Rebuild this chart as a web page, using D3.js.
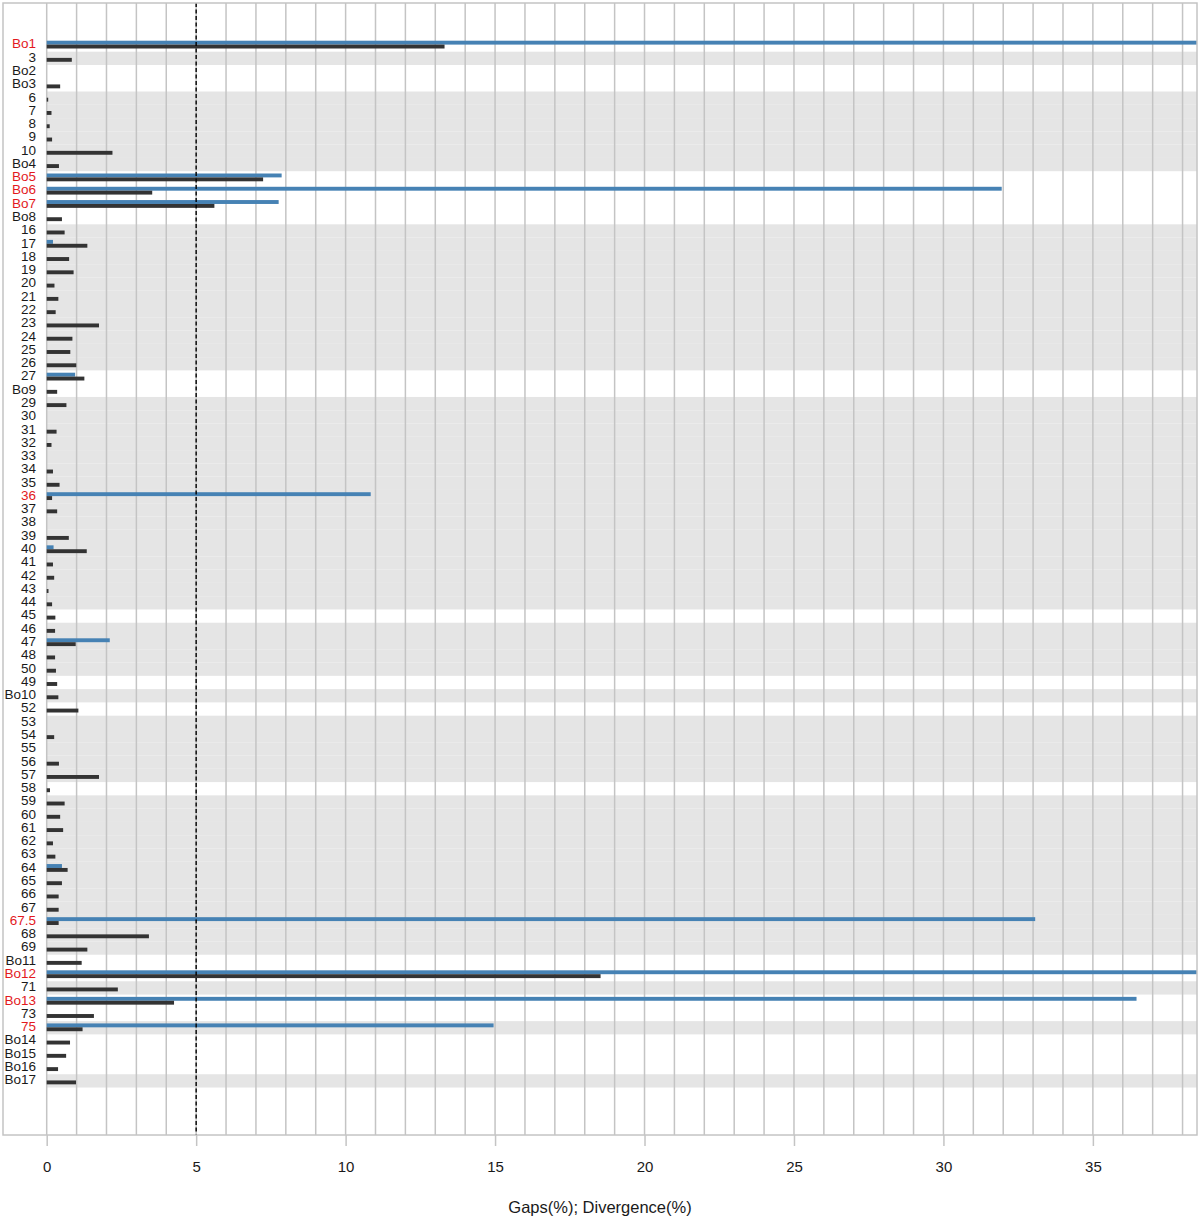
<!DOCTYPE html>
<html>
<head>
<meta charset="utf-8">
<script src="https://cdn.jsdelivr.net/npm/d3@7"></script>
<style>
  body { margin: 0; background: #fff; }
  text { font-family: "Liberation Sans", Arial, Helvetica, sans-serif; }
</style>
</head>
<body>
<div id="chart"></div>
<script>
const labels = [
  "Bo1", "3", "Bo2", "Bo3", "6", "7", "8", "9", "10", "Bo4",
  "Bo5", "Bo6", "Bo7", "Bo8", "16", "17", "18", "19", "20", "21",
  "22", "23", "24", "25", "26", "27", "Bo9", "29", "30", "31",
  "32", "33", "34", "35", "36", "37", "38", "39", "40", "41",
  "42", "43", "44", "45", "46", "47", "48", "50", "49", "Bo10",
  "52", "53", "54", "55", "56", "57", "58", "59", "60", "61",
  "62", "63", "64", "65", "66", "67", "67.5", "68", "69", "Bo11",
  "Bo12", "71", "Bo13", "73", "75", "Bo14", "Bo15", "Bo16", "Bo17"
];

// gaps (%) -> dark bars
const gaps = [
  13.31, 0.84, 0, 0.45, 0.05, 0.16, 0.1, 0.18, 2.2, 0.41,
  7.24, 3.53, 5.61, 0.51, 0.6, 1.36, 0.75, 0.9, 0.26, 0.39,
  0.3, 1.75, 0.86, 0.79, 0.99, 1.26, 0.35, 0.66, 0, 0.33,
  0.16, 0, 0.21, 0.43, 0.18, 0.35, 0, 0.74, 1.34, 0.21,
  0.25, 0.06, 0.18, 0.29, 0.28, 0.97, 0.28, 0.31, 0.35, 0.39,
  1.06, 0, 0.25, 0, 0.41, 1.75, 0.11, 0.6, 0.45, 0.55,
  0.21, 0.29, 0.7, 0.51, 0.4, 0.4, 0.4, 3.42, 1.36, 1.17,
  18.53, 2.38, 4.26, 1.58, 1.2, 0.78, 0.65, 0.38, 0.98
];

// divergence (%) -> blue bars
const divergence = [
  45, 0, 0, 0, 0, 0, 0, 0, 0, 0,
  7.86, 31.95, 7.76, 0, 0, 0.21, 0, 0, 0, 0,
  0, 0, 0, 0, 0, 0.95, 0, 0, 0, 0,
  0, 0, 0, 0, 10.84, 0, 0, 0, 0.23, 0,
  0, 0, 0, 0, 0, 2.11, 0, 0, 0, 0,
  0, 0, 0, 0, 0, 0, 0, 0, 0, 0,
  0, 0, 0.51, 0, 0, 0, 33.07, 0, 0, 0,
  45, 0, 36.46, 0, 14.95, 0, 0, 0, 0
];

// consecutive rows sharing a background band
const groupSizes = [1, 1, 2, 6, 4, 11, 2, 16, 1, 4, 1, 1, 1, 5, 1, 12, 2, 1, 2, 1, 3, 1];

const threshold = 5;
const xTicks = [0, 5, 10, 15, 20, 25, 30, 35];

const width = 1200;
const height = 1220;
const box = { left: 3, right: 1197, top: 3, bottom: 1135 };
const rowTop = 38.4;
const rowH = 13.28;

const rowGroup = [];
groupSizes.forEach((n, g) => { for (let i = 0; i < n; i++) rowGroup.push(g); });

const rows = labels.map((label, i) => ({
  label,
  gap: gaps[i],
  div: divergence[i],
  group: rowGroup[i]
}));

const x = d3.scaleLinear().domain([0, 38.5]).range([46.7, 1197.5]);
const y = d3.scaleBand()
  .domain(labels)
  .range([rowTop, rowTop + rowH * labels.length])
  .padding(0);

const svg = d3.select("#chart")
  .append("svg")
  .attr("width", width)
  .attr("height", height);

svg.append("clipPath").attr("id", "plotClip")
  .append("rect")
  .attr("x", box.left).attr("y", box.top)
  .attr("width", box.right - box.left).attr("height", box.bottom - box.top);

const plot = svg.append("g").attr("clip-path", "url(#plotClip)");

// background bands
plot.append("g")
  .selectAll("rect")
  .data(rows.filter((d) => d.group % 2 === 1))
  .join("rect")
  .attr("x", x(0))
  .attr("y", (d) => y(d.label))
  .attr("width", box.right - x(0))
  .attr("height", y.bandwidth())
  .attr("fill", "#e5e5e5");

// vertical grid
plot.append("g")
  .selectAll("line")
  .data(d3.range(0, 39))
  .join("line")
  .attr("x1", (d) => x(d))
  .attr("x2", (d) => x(d))
  .attr("y1", box.top)
  .attr("y2", box.bottom)
  .attr("stroke", "#c4c4c4")
  .attr("stroke-width", 1.5);

// divergence bars
plot.append("g")
  .selectAll("rect")
  .data(rows.filter((d) => d.div > 0))
  .join("rect")
  .attr("x", x(0))
  .attr("y", (d) => y(d.label) + 2.3)
  .attr("width", (d) => x(d.div) - x(0))
  .attr("height", 3.9)
  .attr("fill", "#4682b4");

// gap bars
plot.append("g")
  .selectAll("rect")
  .data(rows.filter((d) => d.gap > 0))
  .join("rect")
  .attr("x", x(0))
  .attr("y", (d) => y(d.label) + 6.2)
  .attr("width", (d) => Math.max(1, x(d.gap) - x(0)))
  .attr("height", 3.9)
  .attr("fill", "#333333");

// threshold line
plot.append("line")
  .attr("x1", x(threshold)).attr("x2", x(threshold))
  .attr("y1", box.top).attr("y2", box.bottom)
  .attr("stroke", "#000")
  .attr("stroke-width", 1.4)
  .attr("stroke-dasharray", "4,2.5");

// frame
svg.append("rect")
  .attr("x", box.left).attr("y", box.top)
  .attr("width", box.right - box.left).attr("height", box.bottom - box.top)
  .attr("fill", "none")
  .attr("stroke", "#c4c4c4")
  .attr("stroke-width", 1.5);

// row labels
svg.append("g")
  .selectAll("text")
  .data(rows)
  .join("text")
  .attr("x", 36)
  .attr("y", (d) => y(d.label) + 10)
  .attr("text-anchor", "end")
  .attr("font-size", 13.5)
  .attr("fill", (d) => (d.div > threshold ? "#e3191d" : "#1a1a1a"))
  .text((d) => d.label);

// x axis
const xAxis = svg.append("g")
  .attr("transform", `translate(0,${box.bottom})`)
  .call(d3.axisBottom(x).tickValues(xTicks).tickSize(11).tickPadding(15));
xAxis.select(".domain").remove();
xAxis.selectAll(".tick line").attr("stroke", "#c4c4c4").attr("stroke-width", 1.5);
xAxis.selectAll(".tick text")
  .attr("font-size", 15)
  .attr("fill", "#1a1a1a")
  .attr("font-family", "Liberation Sans, Arial, sans-serif");

svg.append("text")
  .attr("x", (box.left + box.right) / 2)
  .attr("y", 1213)
  .attr("text-anchor", "middle")
  .attr("font-size", 16.5)
  .attr("fill", "#1a1a1a")
  .text("Gaps(%); Divergence(%)");
</script>
</body>
</html>
